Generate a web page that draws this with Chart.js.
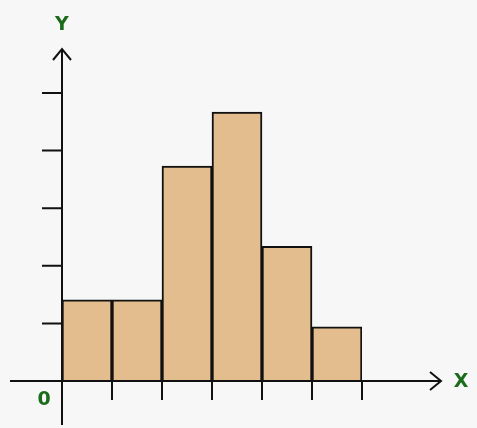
<!DOCTYPE html>
<html>
<head>
<meta charset="utf-8">
<script src="https://cdn.jsdelivr.net/npm/chart.js@4"></script>
<style>
  html, body { margin: 0; padding: 0; background: #f7f7f7; }
  #wrap { width: 477px; height: 428px; }
</style>
</head>
<body>
<div id="wrap"><canvas id="histChart"></canvas></div>
<script>
// histogram data
const categories = ['1', '2', '3', '4', '5', '6'];
const frequencies = [1.41, 1.41, 3.73, 4.67, 2.34, 0.94];
const yTicks = [1, 2, 3, 4, 5];

// axes with arrows, drawn from the chart's own scales
const axesPlugin = {
  id: 'arrowAxes',
  afterDraw(chart) {
    const ctx = chart.ctx;
    const x = chart.scales.x, y = chart.scales.y;
    const ox = chart.chartArea.left, oy = y.getPixelForValue(0);
    ctx.save();
    ctx.strokeStyle = '#111';
    ctx.lineWidth = 2;
    ctx.beginPath();
    ctx.moveTo(10, oy); ctx.lineTo(440, oy);
    ctx.moveTo(ox, 425); ctx.lineTo(ox, 49);
    // arrow heads
    ctx.moveTo(430, oy - 9); ctx.lineTo(441, oy); ctx.lineTo(430, oy + 9);
    ctx.moveTo(ox - 9, 60); ctx.lineTo(ox, 49); ctx.lineTo(ox + 9, 60);
    // y ticks
    yTicks.forEach(v => {
      const py = y.getPixelForValue(v);
      ctx.moveTo(ox - 20, py); ctx.lineTo(ox, py);
    });
    // x ticks at bar boundaries
    const w = x.getPixelForValue(1) - x.getPixelForValue(0);
    categories.forEach((c, i) => {
      const px = x.getPixelForValue(i) + w / 2;
      ctx.moveTo(px, oy); ctx.lineTo(px, oy + 19);
    });
    ctx.stroke();
    ctx.fillStyle = '#1a6b1a';
    ctx.font = 'bold 19px "DejaVu Sans", sans-serif';
    ctx.textAlign = 'center';
    ctx.textBaseline = 'middle';
    ctx.fillText('Y', ox, 25);
    ctx.fillText('X', 461, oy + 1);
    ctx.fillText('0', 44, oy + 19);
    ctx.restore();
  }
};

new Chart(document.getElementById('histChart'), {
  type: 'bar',
  data: {
    labels: categories,
    datasets: [{
      data: frequencies,
      backgroundColor: '#e3bd8d',
      borderColor: '#111',
      borderWidth: 2,
      barPercentage: 1,
      categoryPercentage: 1,
    }]
  },
  options: {
    responsive: true,
    maintainAspectRatio: false,
    animation: false,
    layout: { padding: { left: 54, right: 115, top: 93, bottom: 39 } },
    plugins: { legend: { display: false }, tooltip: { enabled: false } },
    scales: {
      x: { grid: { display: false }, ticks: { display: false }, border: { display: false } },
      y: { min: 0, max: 5, grid: { display: false }, ticks: { display: false }, border: { display: false } }
    }
  },
  plugins: [axesPlugin]
});
</script>
</body>
</html>
